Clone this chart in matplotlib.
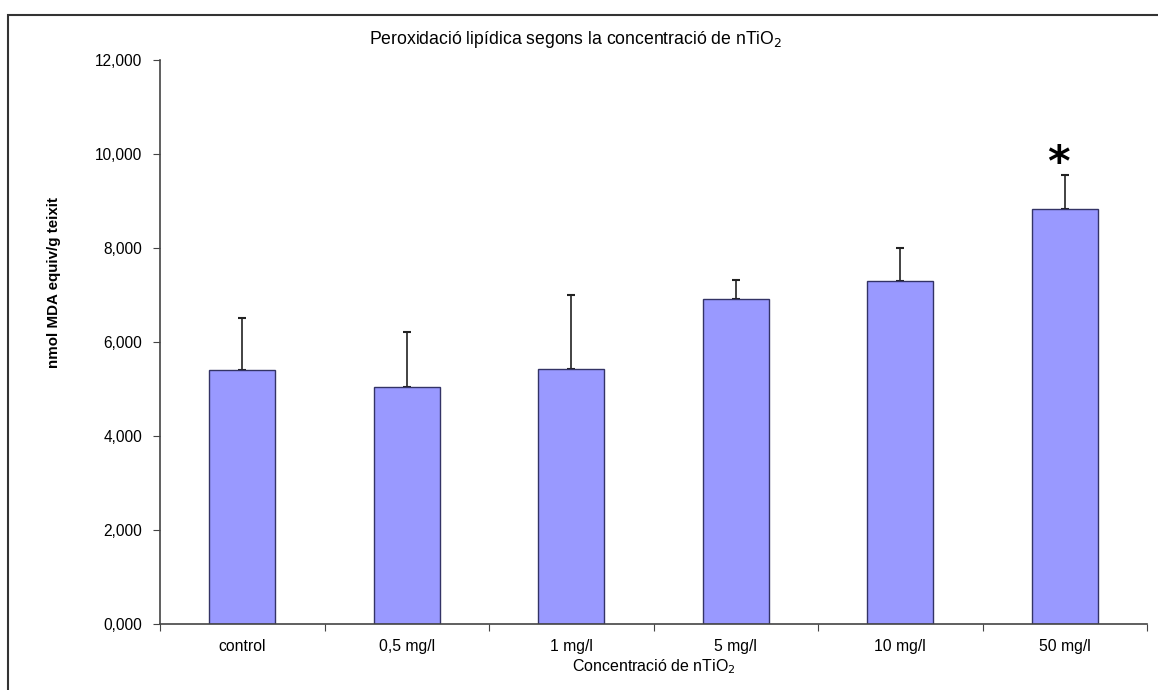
import matplotlib.pyplot as plt
from matplotlib.patches import Rectangle
from matplotlib.ticker import FuncFormatter

plt.rcParams['font.family'] = ['Liberation Sans', 'DejaVu Sans']

# data
categories = ['control', '0,5 mg/l', '1 mg/l', '5 mg/l', '10 mg/l', '50 mg/l']
mda_mean = [5.40, 5.04, 5.43, 6.92, 7.30, 8.82]
mda_err = [1.11, 1.17, 1.57, 0.40, 0.70, 0.73]
significant = [False, False, False, False, False, True]

fig = plt.figure(figsize=(11.58, 6.9), dpi=100)
W, H = 1158, 690

# chart-area frame (runs off the right and bottom edge like the reference)
fig.patches.append(Rectangle((8 / W, -0.05), 1.1, 1 - 15 / H + 0.05,
                             transform=fig.transFigure, fill=False,
                             edgecolor='#333333', linewidth=1.5))

ax = fig.add_axes([160 / W, (H - 624) / H, (1147 - 160) / W, (624 - 60) / H])

x = list(range(len(categories)))
ax.bar(x, mda_mean, width=0.4, color='#9999FF', edgecolor='#333366',
       linewidth=1, zorder=2)
ax.errorbar(x, mda_mean, yerr=[[0] * len(mda_err), mda_err], fmt='none',
            ecolor='#222222', elinewidth=1.2, capsize=3, capthick=1.5, zorder=1)

for xi, m, e, sig in zip(x, mda_mean, mda_err, significant):
    if sig:
        ax.text(xi - 0.04, m + e - 0.2, '*', ha='center', va='bottom',
                fontsize=31, fontweight='bold', family='DejaVu Sans')

ax.set_xlim(-0.5, len(categories) - 0.5)
ax.set_ylim(0, 12)
ax.set_yticks(range(0, 13, 2))
ax.yaxis.set_major_formatter(FuncFormatter(lambda v, p: f'{v:.3f}'.replace('.', ',')))

# category labels between boundary ticks
ax.set_xticks([i - 0.5 for i in range(len(categories) + 1)])
ax.set_xticklabels([])
ax.set_xticks(x, minor=True)
ax.set_xticklabels(categories, minor=True)
ax.tick_params(axis='x', which='minor', length=0, pad=11, labelsize=11.3)
ax.tick_params(axis='x', which='major', length=5, direction='out', color='#444444')
ax.tick_params(axis='y', length=5, direction='out', color='#444444', labelsize=11.2, pad=8)

for s in ['top', 'right']:
    ax.spines[s].set_visible(False)
for s in ['left', 'bottom']:
    ax.spines[s].set_color('#444444')
    ax.spines[s].set_linewidth(1.2)

fig.text(54 / W, 1 - 282 / H, 'nmol MDA equiv/g teixit', rotation=90,
         ha='center', va='center', fontsize=10.9, fontweight='bold')
ax.set_xlabel('Concentració de nTiO$_2$', fontsize=11.5, labelpad=2)

fig.text(369 / W, 1 - 40 / H, 'Peroxidació lipídica segons la concentració de nTiO$_2$',
         ha='left', va='center', fontsize=12.7)

fig.savefig('out.png', dpi=100)
